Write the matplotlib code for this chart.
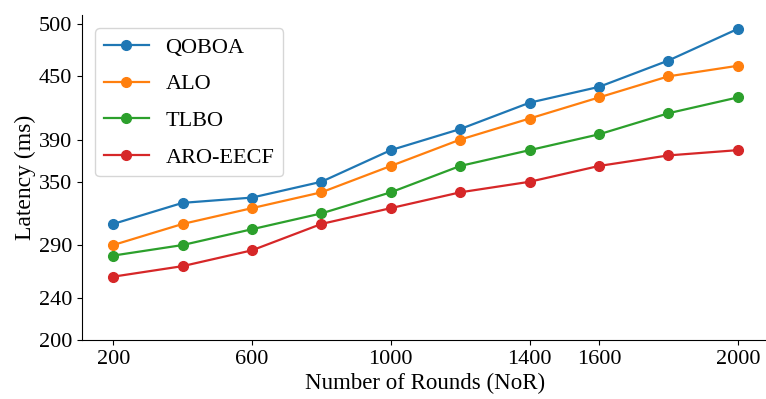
import matplotlib
matplotlib.use("Agg")
import matplotlib.pyplot as plt

plt.rcParams['font.family'] = ['Liberation Serif', 'DejaVu Serif']

# number of rounds
rounds = [200, 400, 600, 800, 1000, 1200, 1400, 1600, 1800, 2000]

# latency (ms) for each method
qoboa = [310, 330, 335, 350, 380, 400, 425, 440, 465, 495]
alo = [290, 310, 325, 340, 365, 390, 410, 430, 450, 460]
tlbo = [280, 290, 305, 320, 340, 365, 380, 395, 415, 430]
aro_eecf = [260, 270, 285, 310, 325, 340, 350, 365, 375, 380]

x_ticks = [200, 600, 1000, 1400, 1600, 2000]
y_ticks = [200, 240, 290, 350, 390, 450, 500]

fig = plt.figure(figsize=(7.66, 3.99), dpi=100)
ax = fig.add_axes([0.107, 0.148, 0.897, 0.814])

ax.plot(rounds, qoboa, marker='o', markersize=7, linewidth=1.6, color='#1f77b4', label='QOBOA')
ax.plot(rounds, alo, marker='o', markersize=7, linewidth=1.6, color='#ff7f0e', label='ALO')
ax.plot(rounds, tlbo, marker='o', markersize=7, linewidth=1.6, color='#2ca02c', label='TLBO')
ax.plot(rounds, aro_eecf, marker='o', markersize=7, linewidth=1.6, color='#d62728', label='ARO-EECF')

ax.set_xlim(110, 2090)
ax.set_ylim(200, 508)
ax.set_xticks(x_ticks)
ax.set_yticks(y_ticks)
ax.tick_params(labelsize=16)

ax.spines['top'].set_visible(False)
ax.spines['right'].set_visible(False)

ax.set_xlabel('Number of Rounds (NoR)', fontsize=16.5, labelpad=3)
ax.set_ylabel('Latency (ms)', fontsize=17, labelpad=2)

ax.legend(loc='upper left', fontsize=16, borderaxespad=0.6,
          labelspacing=0.72, handletextpad=0.75)

fig.savefig('out.png', dpi=100)
